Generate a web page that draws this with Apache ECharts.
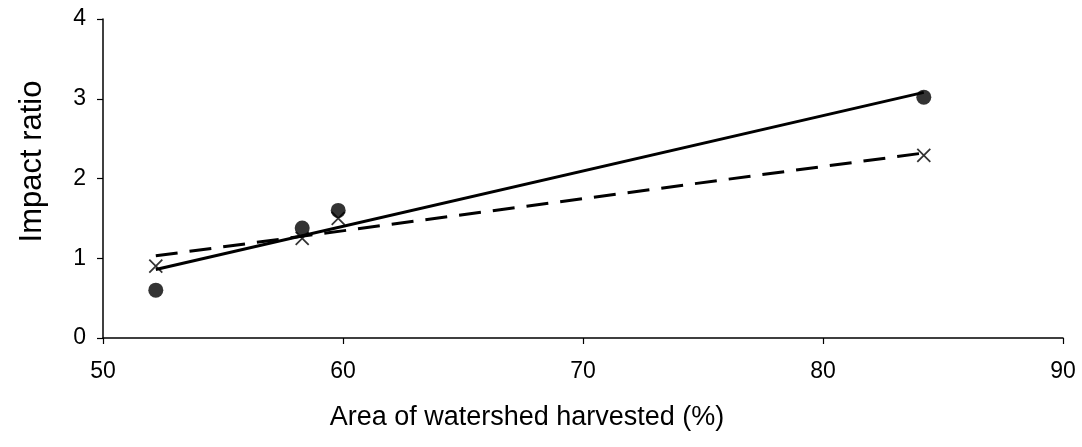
<!DOCTYPE html>
<html>
<head>
<meta charset="utf-8">
<script src="https://cdn.jsdelivr.net/npm/echarts@6/dist/echarts.min.js"></script>
<style>html,body{margin:0;padding:0;background:#fff}#c{width:1082px;height:447px}</style>
</head>
<body>
<div id="c"></div>
<script>
// Measured points (area harvested %, impact ratio)
const circleX = [52.2, 58.3, 59.8, 84.2];
const circleY = [0.60, 1.38, 1.60, 3.02];
const crossX = [52.2, 58.3, 59.8, 84.2];
const crossY = [0.90, 1.25, 1.50, 2.29];
// Fitted lines (endpoints)
const solidLineX = [52.2, 84.2];
const solidLineY = [0.86, 3.08];
const dashLineX = [52.2, 84.2];
const dashLineY = [1.03, 2.32];
const xTicks = [50, 60, 70, 80, 90];
const yTicks = [0, 1, 2, 3, 4];
const xTitle = 'Area of watershed harvested (%)';
const yTitle = 'Impact ratio';

const zip = (a, b) => a.map((v, i) => [v, b[i]]);
const font = "'Liberation Sans', Arial, sans-serif";

const chart = echarts.init(document.getElementById('c'), null, {renderer: 'canvas'});
chart.setOption({
  animation: false,
  backgroundColor: '#fff',
  grid: {left: 103, right: 19, top: 19, bottom: 109},
  xAxis: {
    type: 'value', min: xTicks[0], max: xTicks[xTicks.length - 1], interval: 10,
    name: xTitle, nameLocation: 'middle', nameGap: 66,
    nameTextStyle: {fontFamily: font, fontSize: 27, color: '#000', padding: [0, 112, 0, 0]},
    axisLine: {show: true, lineStyle: {color: '#000', width: 1.5}},
    axisTick: {show: true, inside: false, length: 6, lineStyle: {color: '#000', width: 1.2}},
    axisLabel: {fontFamily: font, fontSize: 23, color: '#000', margin: 22},
    splitLine: {show: false}
  },
  yAxis: {
    type: 'value', min: yTicks[0], max: yTicks[yTicks.length - 1], interval: 1,
    name: yTitle, nameLocation: 'middle', nameGap: 55, nameRotate: 90,
    nameTextStyle: {fontFamily: font, fontSize: 31, color: '#000', padding: [0, 0, 0, 34]},
    axisLine: {show: true, lineStyle: {color: '#000', width: 1.5}},
    axisTick: {show: true, inside: false, length: 6, lineStyle: {color: '#000', width: 1.2}},
    axisLabel: {fontFamily: font, fontSize: 23, color: '#000', margin: 17},
    splitLine: {show: false}
  },
  series: [
    {
      type: 'line', data: zip(solidLineX, solidLineY), symbol: 'none',
      lineStyle: {color: '#000', width: 3, type: 'solid'}, z: 2
    },
    {
      type: 'line', data: zip(dashLineX, dashLineY), symbol: 'none',
      lineStyle: {color: '#000', width: 3, type: [22, 12]}, z: 2
    },
    {
      type: 'scatter', data: zip(circleX, circleY), symbol: 'circle', symbolSize: 15,
      itemStyle: {color: '#000'}, z: 3
    },
    {
      type: 'scatter', data: zip(crossX, crossY),
      symbol: 'path://M0,0L10,10M10,0L0,10', symbolSize: 13,
      itemStyle: {color: 'none', borderColor: '#000', borderWidth: 1.8}, z: 4
    }
  ]
});
</script>
</body>
</html>
